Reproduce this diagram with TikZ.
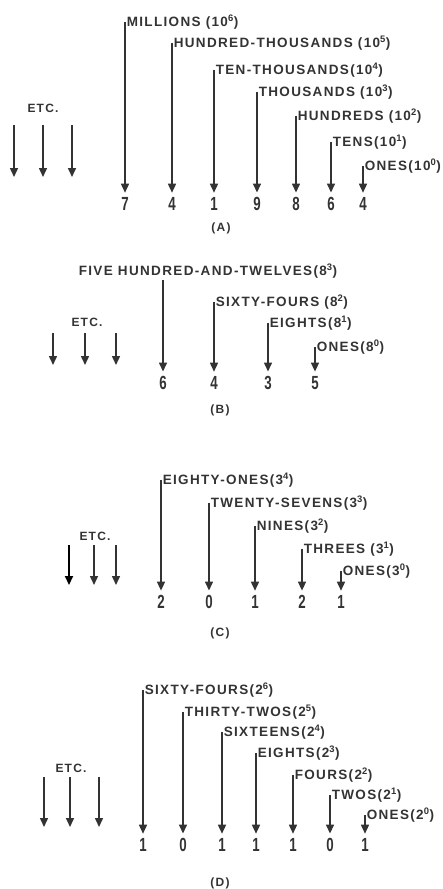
\documentclass[tikz,border=0pt]{standalone}
\usepackage{fontspec}
\setmainfont[LetterSpace=10]{Liberation Sans}
\newfontfamily\digitfont[FakeStretch=0.7]{Liberation Sans}
\usetikzlibrary{positioning}
\usetikzlibrary{arrows.meta}
\colorlet{ink}{black!80}

\begin{document}
\begin{tikzpicture}[
            x=1pt, y=-1pt, line width=1.5pt, draw=ink, text=ink,
            arr/.style={-{Triangle[length=9pt,width=8pt]}, shorten >=3pt},
            etcarr/.style={-{Triangle[length=9pt,width=8pt]}},
            place/.style={anchor=west, inner sep=1pt, font=\bfseries\fontsize{13.5}{16}\selectfont},
            digit/.style={inner sep=1pt, font=\digitfont\bfseries\fontsize{19}{20}\selectfont},
            caption/.style={inner sep=1pt, font=\bfseries\fontsize{12}{14}\selectfont}
        ]
            \useasboundingbox (0,0) rectangle (443,889);

            % (A) base ten
            \node[digit] (a6) at (125,204) {7};
            \node[digit] (a5) at (172,204) {4};
            \node[digit] (a4) at (214,204) {1};
            \node[digit] (a3) at (257,204) {9};
            \node[digit] (a2) at (296,204) {8};
            \node[digit] (a1) at (331,204) {6};
            \node[digit] (a0) at (363,204) {4};
            \node[place] (la6) at (125,22) {MILLIONS (10\textsuperscript{6})};
            \node[place] (la5) at (172,43) {HUNDRED-THOUSANDS (10\textsuperscript{5})};
            \node[place] (la4) at (214,70) {TEN-THOUSANDS(10\textsuperscript{4})};
            \node[place] (la3) at (257,92) {THOUSANDS (10\textsuperscript{3})};
            \node[place] (la2) at (296,116) {HUNDREDS (10\textsuperscript{2})};
            \node[place] (la1) at (331,142) {TENS(10\textsuperscript{1})};
            \node[place] (la0) at (363,166) {ONES(10\textsuperscript{0})};
            \foreach \i in {0,...,6} {\draw[arr] (la\i.west) -- (a\i.north);}
            \node[caption] (etca) at (43,108) {ETC.};
            \foreach \x [count=\i] in {14,43,72} {
                \coordinate (eat\i) at (\x,125); \coordinate (eab\i) at (\x,177);
                \draw[etcarr] (eat\i) -- (eab\i);
            }
            \node[caption] (capa) at (221,228) {(A)};

            % (B) base eight
            \node[digit] (b3) at (163,383) {6};
            \node[digit] (b2) at (214,383) {4};
            \node[digit] (b1) at (268,383) {3};
            \node[digit] (b0) at (315,383) {5};
            \node[place, anchor=center] (lb3) at (208,271) {FIVE HUNDRED-AND-TWELVES(8\textsuperscript{3})};
            \node[place] (lb2) at (214,302) {SIXTY-FOURS (8\textsuperscript{2})};
            \node[place] (lb1) at (268,323) {EIGHTS(8\textsuperscript{1})};
            \node[place] (lb0) at (315,347) {ONES(8\textsuperscript{0})};
            \draw[arr] (lb3.south -| b3) -- (b3.north);
            \foreach \i in {0,1,2} {\draw[arr] (lb\i.west) -- (b\i.north);}
            \node[caption] (etcb) at (87,322) {ETC.};
            \foreach \x [count=\i] in {53,85,116} {
                \coordinate (ebt\i) at (\x,333); \coordinate (ebb\i) at (\x,365);
                \draw[etcarr] (ebt\i) -- (ebb\i);
            }
            \node[caption] (capb) at (220,410) {(B)};

            % (C) base three
            \node[digit] (c4) at (161,602) {2};
            \node[digit] (c3) at (209,602) {0};
            \node[digit] (c2) at (255,602) {1};
            \node[digit] (c1) at (302,602) {2};
            \node[digit] (c0) at (341,602) {1};
            \node[place] (lc4) at (161,480) {EIGHTY-ONES(3\textsuperscript{4})};
            \node[place] (lc3) at (209,503) {TWENTY-SEVENS(3\textsuperscript{3})};
            \node[place] (lc2) at (255,526) {NINES(3\textsuperscript{2})};
            \node[place] (lc1) at (302,549) {THREES (3\textsuperscript{1})};
            \node[place] (lc0) at (341,571) {ONES(3\textsuperscript{0})};
            \foreach \i in {0,...,4} {\draw[arr] (lc\i.west) -- (c\i.north);}
            \node[caption] (etcc) at (95,536) {ETC.};
            \foreach \x [count=\i] in {69,94,116} {
                \coordinate (ect\i) at (\x,545); \coordinate (ecb\i) at (\x,585);
            }
            \draw[etcarr, line width=2.2pt, draw=black] (ect1) -- (ecb1);
            \draw[etcarr] (ect2) -- (ecb2);
            \draw[etcarr] (ect3) -- (ecb3);
            \node[caption] (capc) at (220,633) {(C)};

            % (D) base two
            \node[digit] (d6) at (143,845) {1};
            \node[digit] (d5) at (183,845) {0};
            \node[digit] (d4) at (222,845) {1};
            \node[digit] (d3) at (256,845) {1};
            \node[digit] (d2) at (293,845) {1};
            \node[digit] (d1) at (330,845) {0};
            \node[digit] (d0) at (365,845) {1};
            \node[place] (ld6) at (143,690) {SIXTY-FOURS(2\textsuperscript{6})};
            \node[place] (ld5) at (183,712) {THIRTY-TWOS(2\textsuperscript{5})};
            \node[place] (ld4) at (222,732) {SIXTEENS(2\textsuperscript{4})};
            \node[place] (ld3) at (256,753) {EIGHTS(2\textsuperscript{3})};
            \node[place] (ld2) at (293,775) {FOURS(2\textsuperscript{2})};
            \node[place] (ld1) at (330,795) {TWOS(2\textsuperscript{1})};
            \node[place] (ld0) at (365,815) {ONES(2\textsuperscript{0})};
            \foreach \i in {0,...,6} {\draw[arr] (ld\i.west) -- (d\i.north);}
            \node[caption] (etcd) at (71,768) {ETC.};
            \foreach \x [count=\i] in {44,70,99} {
                \coordinate (edt\i) at (\x,777); \coordinate (edb\i) at (\x,827);
                \draw[etcarr] (edt\i) -- (edb\i);
            }
            \node[caption] (capd) at (220,883) {(D)};
        \end{tikzpicture}
\end{document}
